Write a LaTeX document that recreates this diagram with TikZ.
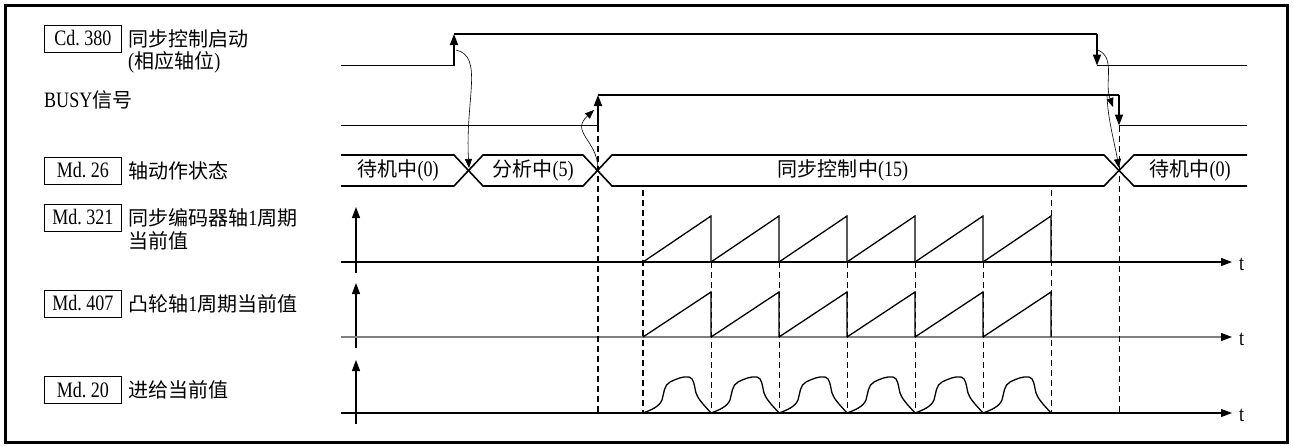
\documentclass[tikz,border=0pt]{standalone}
\usepackage{fontspec}
\setmainfont[FakeStretch=0.82]{Liberation Serif}
\newfontfamily\cjk[Scale=0.91]{Noto Sans CJK SC}
\newcommand{\zh}[1]{{\cjk #1}}
\usetikzlibrary{arrows.meta}

\begin{document}
\begin{tikzpicture}[
x=1pt,y=-1pt,
every node/.style={font=\fontsize{22}{24}\selectfont,inner sep=0pt},
tagbox/.style={draw,line width=0.8pt,minimum width=77pt,minimum height=27pt,anchor=west},
sigtext/.style={anchor=west},
signal/.style={line width=1.8pt},
bus/.style={line width=1.6pt},
edgeup/.style={line width=1.8pt,-{Triangle[length=11pt,width=8pt]}},
axis/.style={line width=1.2pt,-{Triangle[length=11pt,width=8pt,color=black]}},
guide/.style={line width=1.3pt,dash pattern=on 6pt off 4pt},
thinguide/.style={line width=0.7pt,dash pattern=on 6pt off 4pt},
cause/.style={line width=0.6pt,-{Triangle[length=9pt,width=7pt]}},
wave/.style={line width=1.3pt}
]
\useasboundingbox (0,0) rectangle (1293,445);
\draw[line width=3pt] (5,5) rectangle (1287,442);

% labels
\node[tagbox] (cd380) at (44,38.5) {Cd.~380};
\node[sigtext] (cd380a) at (128,39) {\zh{同步控制启动}};
\node[sigtext] (cd380b) at (128,62) {(\zh{相应轴位})};
\node[sigtext] (busy) at (44,100) {BUSY\zh{信号}};
\node[tagbox] (md26) at (44,170.5) {Md.~26};
\node[sigtext] (md26a) at (128,170.5) {\zh{轴动作状态}};
\node[tagbox] (md321) at (44,217.5) {Md.~321};
\node[sigtext] (md321a) at (128,217.5) {\zh{同步编码器轴}1\zh{周期}};
\node[sigtext] (md321b) at (128,241) {\zh{当前值}};
\node[tagbox] (md407) at (44,303.5) {Md.~407};
\node[sigtext] (md407a) at (128,303.5) {\zh{凸轮轴}1\zh{周期当前值}};
\node[tagbox] (md20) at (44,390) {Md.~20};
\node[sigtext] (md20a) at (128,390) {\zh{进给当前值}};

% Cd.380
\draw[signal] (341,65.5) -- (454,65.5);
\draw[edgeup] (454,65.5) -- (454,34);
\draw[signal] (454,34) -- (1097,34);
\draw[edgeup] (1097,34) -- (1097,65.5);
\draw[signal] (1097,65.5) -- (1247,65.5);

% BUSY
\draw[signal] (341,125.5) -- (598,125.5);
\draw[edgeup] (598,125.5) -- (598,95);
\draw[signal] (598,95) -- (1119,95);
\draw[edgeup] (1119,95) -- (1119,125.5);
\draw[signal] (1119,125.5) -- (1247,125.5);

% Md.26
\draw[bus] (341,155) -- (454,155) -- (483,186) -- (583,186) -- (612,155) -- (1104,155) -- (1134,186) -- (1247,186);
\draw[bus] (341,186) -- (454,186) -- (483,155) -- (583,155) -- (612,186) -- (1104,186) -- (1134,155) -- (1247,155);
\node (s0) at (398,170.5) {\zh{待机中}(0)};
\node (s5) at (533,170.5) {\zh{分析中}(5)};
\node (s15) at (843,170.5) {\zh{同步控制中}(15)};
\node (s0b) at (1190,170.5) {\zh{待机中}(0)};

% axes
\draw[axis] (356,273) -- (356,207);
\draw[axis] (341,262) -- (1232,262);
\node[anchor=west] (t1) at (1239,264) {t};
\draw[axis] (356,348) -- (356,283);
\draw[axis,black!50] (341,337) -- (1232,337);
\node[anchor=west] (t2) at (1239,339) {t};
\draw[axis] (356,424) -- (356,360);
\draw[axis] (341,413) -- (1232,413);
\node[anchor=west] (t3) at (1239,415) {t};

% guides
\draw[guide] (598,125.5) -- (598,413);
\draw[guide] (643,190) -- (643,413);
\foreach \g in {711,779,...,983}
  \draw[thinguide] (\g,262) -- (\g,413);
\draw[thinguide] (1051,190) -- (1051,413);
\draw[thinguide] (1119,125.5) -- (1119,413);

% waves
\foreach \s in {643,711,...,983} {
  \draw[wave] (\s,262) -- ++(68,-46) -- ++(0,46);
  \draw[wave] (\s,337) -- ++(68,-45) -- ++(0,45);
  \draw[wave,shift={(\s,413)}] (0,0) .. controls (8,-3) and (16,-6) .. (19,-13)
    .. controls (21,-20) and (21,-28) .. (27,-31)
    .. controls (33,-34) and (40,-37) .. (46,-36)
    .. controls (51,-35) and (51,-28) .. (53,-20)
    .. controls (55,-14) and (60,-9) .. (68,0);
}

% causes
\coordinate (c1) at (456,50);
\coordinate (x1) at (469,168);
\coordinate (x2) at (598,168);
\coordinate (b1) at (594,110);
\coordinate (c2) at (1098,50);
\coordinate (b2) at (1113,107);
\coordinate (b3) at (1107,96);
\coordinate (x3) at (1119,168);
\draw[cause] (c1) .. controls (484,56) and (465,100) .. (x1);
\draw[cause] (x2) .. controls (597,140) and (570,132) .. (b1);
\draw[cause] (c2) .. controls (1116,58) and (1104,82) .. (b2);
\draw[cause] (b3) .. controls (1108,120) and (1114,140) .. (x3);
\end{tikzpicture}
\end{document}
